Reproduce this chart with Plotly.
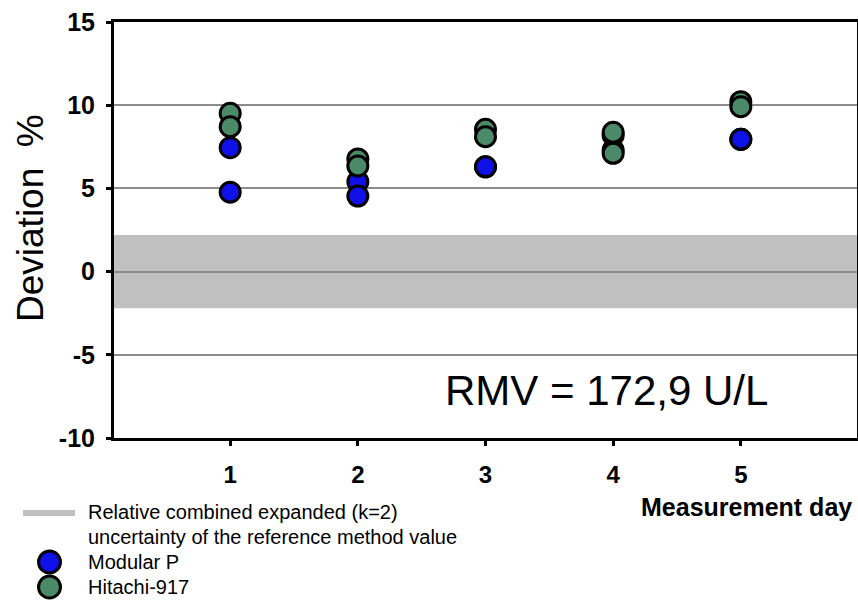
import plotly.graph_objects as go

# Measurement days and deviations (%) from the reference method value
days_modular = [1, 1, 2, 2, 3, 3, 4, 4, 5, 5]
dev_modular = [7.45, 4.77, 5.40, 4.54, 6.30, 6.30, 7.3, 8.2, 7.95, 7.95]

days_hitachi = [1, 1, 2, 2, 3, 3, 4, 4, 5, 5]
dev_hitachi = [9.51, 8.71, 6.77, 6.35, 8.55, 8.11, 8.37, 7.11, 10.21, 9.91]

# Relative combined expanded uncertainty (k=2) of the reference method value
u_ref = 2.2

y_ticks = [-10, -5, 0, 5, 10, 15]
x_ticks = [1, 2, 3, 4, 5]
rmv_label = "RMV = 172,9 U/L"
band_label = ["Relative combined expanded (k=2)", "uncertainty of the reference method value"]
names = ["Modular P", "Hitachi-917"]
colors = ["#1010e8", "#4a8a68"]

W, H = 858, 604
ML, MR, MT, MB = 114, 1, 22, 166
plot_w = W - ML - MR
plot_h = H - MT - MB


def px_x(x):
    return (x - ML) / plot_w


def px_y(y):
    return (H - MB - y) / plot_h


fig = go.Figure()

for days, devs, name, color in [(days_modular, dev_modular, names[0], colors[0]),
                                (days_hitachi, dev_hitachi, names[1], colors[1])]:
    fig.add_trace(go.Scatter(
        x=days, y=devs, mode="markers", name=name, showlegend=False,
        marker=dict(size=20, color=color, line=dict(color="black", width=3)),
    ))

shapes = [
    # uncertainty band around zero deviation
    dict(type="rect", xref="paper", yref="y", x0=0, x1=1, y0=-u_ref, y1=u_ref,
         fillcolor="#c0c0c0", line=dict(width=0), layer="below"),
    # key below the plot: grey band swatch plus the two instrument markers
    dict(type="line", xref="paper", yref="paper",
         x0=px_x(23), x1=px_x(75), y0=px_y(513), y1=px_y(513),
         line=dict(color="#c0c0c0", width=6)),
]
key_y = [562, 587]
for yy, color in zip(key_y, colors):
    shapes.append(dict(type="circle", xref="paper", yref="paper",
                       x0=px_x(49.5 - 11), x1=px_x(49.5 + 11),
                       y0=px_y(yy - 11), y1=px_y(yy + 11),
                       fillcolor=color, line=dict(color="black", width=3)))

key_text = [(band_label[0], 512), (band_label[1], 537), (names[0], 562), (names[1], 587)]
annotations = [
    dict(text=t, x=px_x(86), y=px_y(yy), xref="paper", yref="paper",
         xanchor="left", yanchor="middle", showarrow=False, font=dict(size=20))
    for t, yy in key_text
]

annotations += [
    dict(text="Deviation  %", textangle=-90, x=px_x(30), y=px_y(218),
         xref="paper", yref="paper", xanchor="center", yanchor="middle",
         showarrow=False, font=dict(size=37)),
    dict(text=rmv_label, x=px_x(443), y=-7.15, xref="paper", yref="y",
         xanchor="left", yanchor="middle",
         showarrow=False, font=dict(size=42)),
    dict(text="<b>Measurement day</b>", x=px_x(854), y=px_y(507),
         xref="paper", yref="paper", xanchor="right", yanchor="middle",
         showarrow=False, font=dict(size=25)),
]

fig.update_layout(
    width=W, height=H,
    margin=dict(l=ML, r=MR, t=MT, b=MB, autoexpand=False),
    plot_bgcolor="white", paper_bgcolor="white",
    font=dict(family="Arial, Liberation Sans, sans-serif", color="black"),
    showlegend=False,
    xaxis=dict(
        range=[0.09, 5.91], tickvals=x_ticks, ticktext=[f"<b>{v}</b>" for v in x_ticks],
        tickfont=dict(size=24), showgrid=False, zeroline=False,
        showline=True, linecolor="black", linewidth=3, mirror=True,
        ticks="outside", ticklen=5, tickwidth=3, tickcolor="black",
        ticklabelstandoff=8,
    ),
    yaxis=dict(
        range=[-10, 15], tickvals=y_ticks, ticktext=[f"<b>{v}</b>" for v in y_ticks],
        tickfont=dict(size=25), showgrid=True, gridcolor="#8c8c8c", gridwidth=1.5,
        zeroline=False,
        showline=True, linecolor="black", linewidth=3, mirror=True,
        ticks="outside", ticklen=5, tickwidth=3, tickcolor="black",
        ticklabelstandoff=6,
    ),
    shapes=shapes,
    annotations=annotations,
)

fig.write_html("out.html")
